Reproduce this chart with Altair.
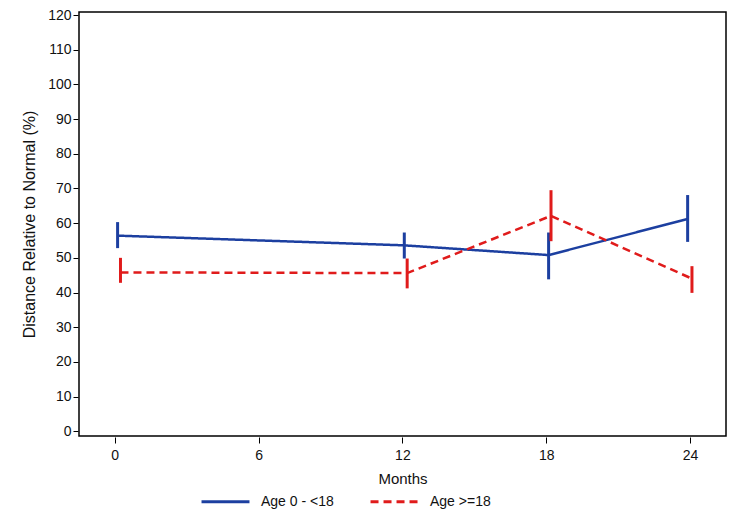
import altair as alt
import pandas as pd

# Data
groups = ["Age 0 - <18", "Age >=18"]
blue_months = [0.12, 12.08, 18.1, 23.9]
blue_mean = [56.4, 53.6, 50.8, 61.2]
blue_lo = [52.8, 49.8, 43.8, 54.6]
blue_hi = [60.3, 57.3, 57.3, 68.1]
red_months = [0.24, 12.2, 18.2, 24.08]
red_mean = [45.8, 45.6, 62.1, 44.0]
red_lo = [42.8, 41.2, 54.8, 39.9]
red_hi = [50.0, 49.8, 69.5, 47.6]
x_ticks = [0, 6, 12, 18, 24]
y_ticks = list(range(0, 121, 10))

rows = []
for m, v, lo, hi in zip(blue_months, blue_mean, blue_lo, blue_hi):
    rows.append({"Months": m, "value": v, "lo": lo, "hi": hi, "group": groups[0]})
for m, v, lo, hi in zip(red_months, red_mean, red_lo, red_hi):
    rows.append({"Months": m, "value": v, "lo": lo, "hi": hi, "group": groups[1]})
df = pd.DataFrame(rows)

FONT = "Liberation Sans"
colors = ["#1c3fa0", "#e01b1b"]

xscale = alt.Scale(domain=[-1.49, 25.5], nice=False, zero=False)
yscale = alt.Scale(domain=[-1.36, 120.87], nice=False, zero=False)
xaxis = alt.Axis(values=x_ticks, title="Months", grid=False, domain=False,
                 tickSize=6, tickColor="black", offset=1, labelOverlap=False,
                 labelFontSize=14, labelPadding=5, titleFontSize=15, labelFont=FONT,
                 titleFont=FONT, titleFontWeight="normal", titlePadding=9,
                 labelColor="#111", titleColor="#111")
yaxis = alt.Axis(values=y_ticks, title="Distance Relative to Normal (%)", grid=False,
                 domain=False, tickSize=5, tickColor="black", offset=1,
                 labelOverlap=False, labelFlush=False, labelFont=FONT, titleFont=FONT,
                 labelFontSize=14, labelPadding=2, titleFontSize=16,
                 titleFontWeight="normal", titlePadding=10, labelColor="#111",
                 titleColor="#111")

legend = alt.Legend(title=None, orient="none", legendX=121, legendY=464,
                    direction="horizontal", symbolType="stroke",
                    symbolSize=2300, symbolStrokeWidth=3, labelFont=FONT,
                    labelFontSize=14, labelColor="#111",
                    columnPadding=30, labelOffset=10)
color = alt.Color("group:N", scale=alt.Scale(domain=groups, range=colors), legend=legend)
dash = alt.StrokeDash("group:N", scale=alt.Scale(domain=groups, range=[[1, 0], [8, 5]]),
                      legend=legend)

base = alt.Chart(df)
lines = base.mark_line(strokeWidth=2.5).encode(
    x=alt.X("Months:Q", scale=xscale, axis=xaxis),
    y=alt.Y("value:Q", scale=yscale, axis=yaxis),
    color=color, strokeDash=dash)
bars = base.mark_rule(strokeWidth=3).encode(
    x=alt.X("Months:Q", scale=xscale, axis=xaxis),
    y=alt.Y("lo:Q", scale=yscale, axis=yaxis), y2="hi:Q", color=color)

chart = alt.layer(lines, bars).properties(
    width=647, height=424,
    autosize=alt.AutoSizeParams(type="none"),
    padding={"left": 71, "top": 4, "right": 6, "bottom": 73},
).configure(font=FONT, background="white").configure_view(stroke="black", strokeWidth=1.5)

chart.save("out.html", embed_options={"renderer": "svg", "actions": False})
